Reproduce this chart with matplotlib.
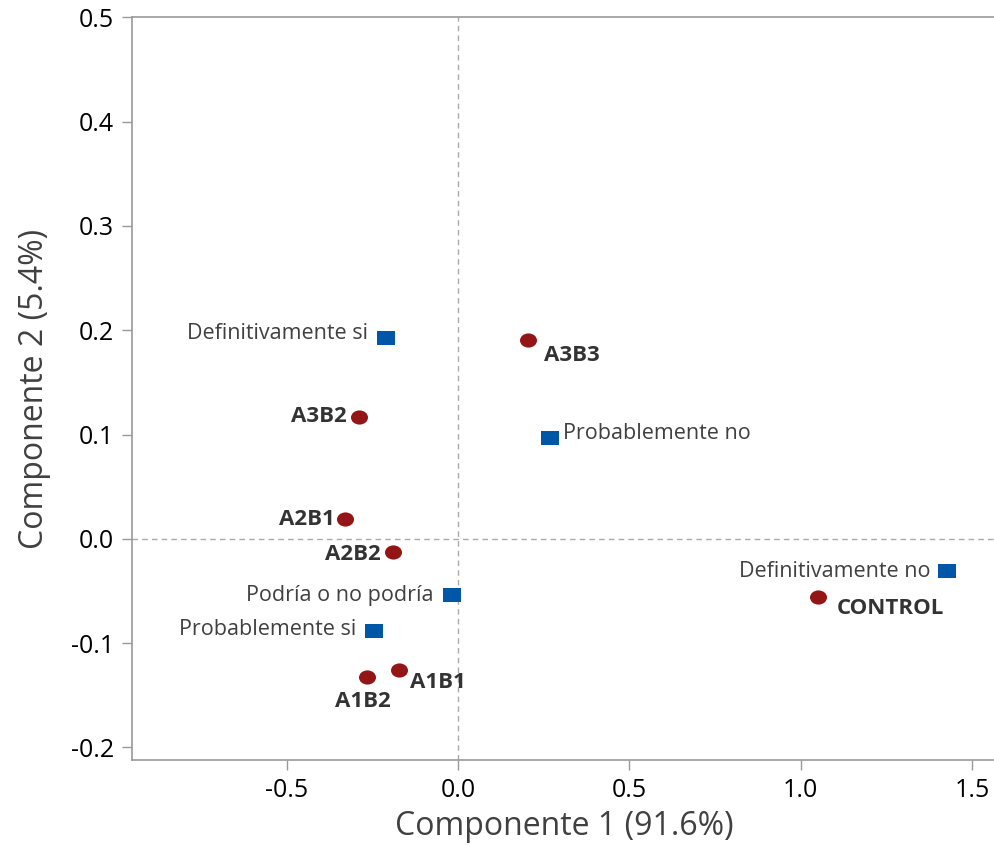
import matplotlib
matplotlib.use("Agg")
import matplotlib.pyplot as plt
from matplotlib.path import Path
from matplotlib.transforms import Affine2D

plt.rcParams['font.family'] = ['Open Sans', 'DejaVu Sans']
plt.rcParams['axes.unicode_minus'] = False

# samples (red circles)
samples = ['A3B3', 'A3B2', 'A2B1', 'A2B2', 'A1B1', 'A1B2', 'CONTROL']
samples_x = [0.204, -0.289, -0.330, -0.190, -0.172, -0.266, 1.050]
samples_y = [0.191, 0.117, 0.019, -0.013, -0.126, -0.132, -0.056]

# response categories (blue squares)
cats = ['Definitivamente si', 'Probablemente no', 'Podría o no podría',
        'Probablemente si', 'Definitivamente no']
cats_x = [-0.210, 0.268, -0.018, -0.245, 1.427]
cats_y = [0.193, 0.097, -0.054, -0.088, -0.031]

# label offsets in pixels (dx, dy, ha)
samp_off = [(16, -16, 'left'), (-12, 0, 'right'), (-10, 0, 'right'), (-12, -2, 'right'),
            (11, -12, 'left'), (-4, -25, 'center'), (19, -11, 'left')]
cat_off = [(-18, 4, 'right'), (13, 4, 'left'), (-18, 0, 'right'), (-18, 1, 'right'),
           (-17, 0, 'right')]

# the original picture is a bit stretched sideways
stretch = Affine2D().scale(1.2, 1.0)
oval = stretch.transform_path(Path.unit_circle())
rect = (Affine2D().translate(-0.5, -0.5) + stretch).transform_path(Path.unit_rectangle())

fig = plt.figure(figsize=(9.94, 8.46), dpi=100)
ax = fig.add_axes([0.1328, 0.1017, 0.8672, 0.8778])

ax.axhline(0, color='#aaaaaa', ls=(0, (4, 3)), lw=1, zorder=1)
ax.axvline(0, color='#aaaaaa', ls=(0, (4, 3)), lw=1, zorder=1)

ax.scatter(samples_x, samples_y, marker=oval, s=150, color='#941515', zorder=3, linewidths=0)
ax.scatter(cats_x, cats_y, marker=rect, s=150, color='#0057A8', zorder=3, linewidths=0)

for name, x, y, (dx, dy, ha) in zip(samples, samples_x, samples_y, samp_off):
    ax.annotate(name, (x, y), xytext=(dx, dy), textcoords='offset pixels',
                ha=ha, va='center', fontsize=16, fontweight='bold', color='#333333')
for name, x, y, (dx, dy, ha) in zip(cats, cats_x, cats_y, cat_off):
    ax.annotate(name, (x, y), xytext=(dx, dy), textcoords='offset pixels',
                ha=ha, va='center', fontsize=15.5, color='#404040')

ax.set_xlim(-0.951, 1.564)
ax.set_ylim(-0.212, 0.5)
ax.set_xticks([-0.5, 0.0, 0.5, 1.0, 1.5])
ax.set_yticks([-0.2, -0.1, 0.0, 0.1, 0.2, 0.3, 0.4, 0.5])
ax.xaxis.set_major_formatter(matplotlib.ticker.FormatStrFormatter('%.1f'))
ax.yaxis.set_major_formatter(matplotlib.ticker.FormatStrFormatter('%.1f'))

for s in ['left', 'bottom', 'top']:
    ax.spines[s].set_color('#999999')
    ax.spines[s].set_linewidth(1.2)
ax.spines['right'].set_visible(False)
ax.tick_params(direction='out', length=7, width=1, color='#999999',
               labelsize=18, labelcolor='black', pad=6)

ax.set_xlabel('Componente 1 (91.6%)', fontsize=23, color='#404040')
ax.set_ylabel('Componente 2 (5.4%)', fontsize=23, color='#404040')
ax.xaxis.set_label_coords(0.501, -0.068)
ax.yaxis.set_label_coords(-0.094, 0.5)

fig.savefig('out.png', dpi=100)
